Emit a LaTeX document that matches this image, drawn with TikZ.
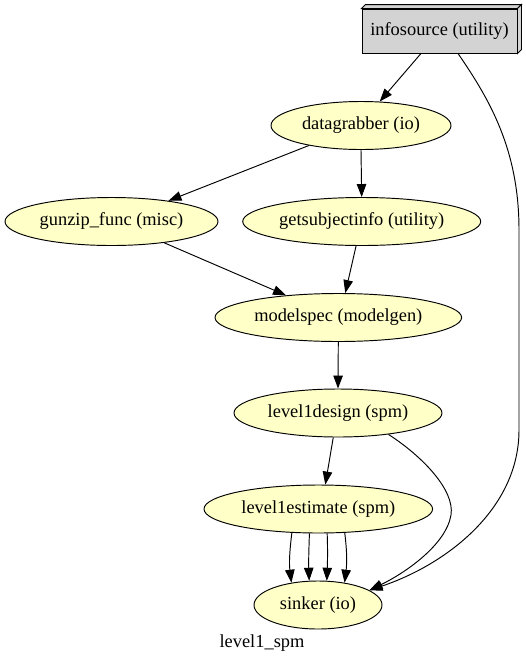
\documentclass[tikz,border=0pt]{standalone}
\usepackage{fontspec}
\setmainfont{Liberation Serif}
\usetikzlibrary{arrows.meta,shapes.geometric}
\definecolor{nodefill}{HTML}{FFFFC8}
\definecolor{boxfill}{HTML}{D3D3D3}
\begin{document}
\begin{tikzpicture}[x=1pt,y=-1pt,
  every node/.style={font=\fontsize{18.4}{22}\selectfont},
  proc/.style={ellipse, draw, fill=nodefill, line width=0.95pt, minimum height=48pt, inner sep=0pt},
  iobox/.style={rectangle, draw, fill=boxfill, line width=0.95pt, minimum width=155pt, minimum height=44pt, inner sep=0pt},
  arr/.style={line width=0.95pt, -{Triangle[length=13pt,width=9.5pt]}},
]
\useasboundingbox (0,0) rectangle (526,665);

\node[iobox] (info) at (439.5,31) {infosource (utility)};
\filldraw[fill=boxfill, line width=0.95pt, line join=miter]
  (info.north west) -- ++(4,-4) -- ([shift={(4,-4)}]info.north east) -- (info.north east) -- cycle;
\filldraw[fill=boxfill, line width=0.95pt, line join=miter]
  (info.north east) -- ++(4,-4) -- ([shift={(4,-4)}]info.south east) -- (info.south east) -- cycle;

\node[proc, minimum width=180pt] (dg) at (361,125.5) {datagrabber (io)};
\node[proc, minimum width=213pt] (gz) at (111.5,221.5) {gunzip\_func (misc)};
\node[proc, minimum width=238pt] (gs) at (361.7,221.5) {getsubjectinfo (utility)};
\node[proc, minimum width=246.6pt] (ms) at (338.3,317.5) {modelspec (modelgen)};
\node[proc, minimum width=208pt] (l1d) at (338,413) {level1design (spm)};
\node[proc, minimum width=228.6pt] (l1e) at (318.3,509) {level1estimate (spm)};
\node[proc, minimum width=128pt] (sk) at (318,605) {sinker (io)};
\node (lbl) at (262,643) {level1\_spm};

\draw[arr] ([xshift=-18.5pt]info.south) -- (dg.52);
\draw[arr] (dg.201) -- (gz.20);
\draw[arr] (dg.south) -- (gs.north);
\draw[arr] (gz.-22) -- (ms.157);
\draw[arr] (gs.-103) -- (ms.74);
\draw[arr] (ms.south) -- (l1d.north);
\draw[arr] (l1d.-101) -- (l1e.74);
\draw[arr] (l1d.-23) .. controls (422,456) and (455,490) .. (451,515)
  .. controls (446,545) and (405,573) .. (sk.16);
\draw[arr] ([xshift=18.5pt]info.south) .. controls (490,100) and (519,150) .. (519,230)
  -- (519,430) .. controls (519,510) and (445,565) .. (sk.16);
\draw[arr] (l1e.-138) to[out=-97,in=97] (sk.140);
\draw[arr] (l1e.-110) to[out=-92,in=92] (sk.110);
\draw[arr] (l1e.-70) to[out=-88,in=88] (sk.70);
\draw[arr] (l1e.-42) to[out=-83,in=83] (sk.40);
\end{tikzpicture}
\end{document}
